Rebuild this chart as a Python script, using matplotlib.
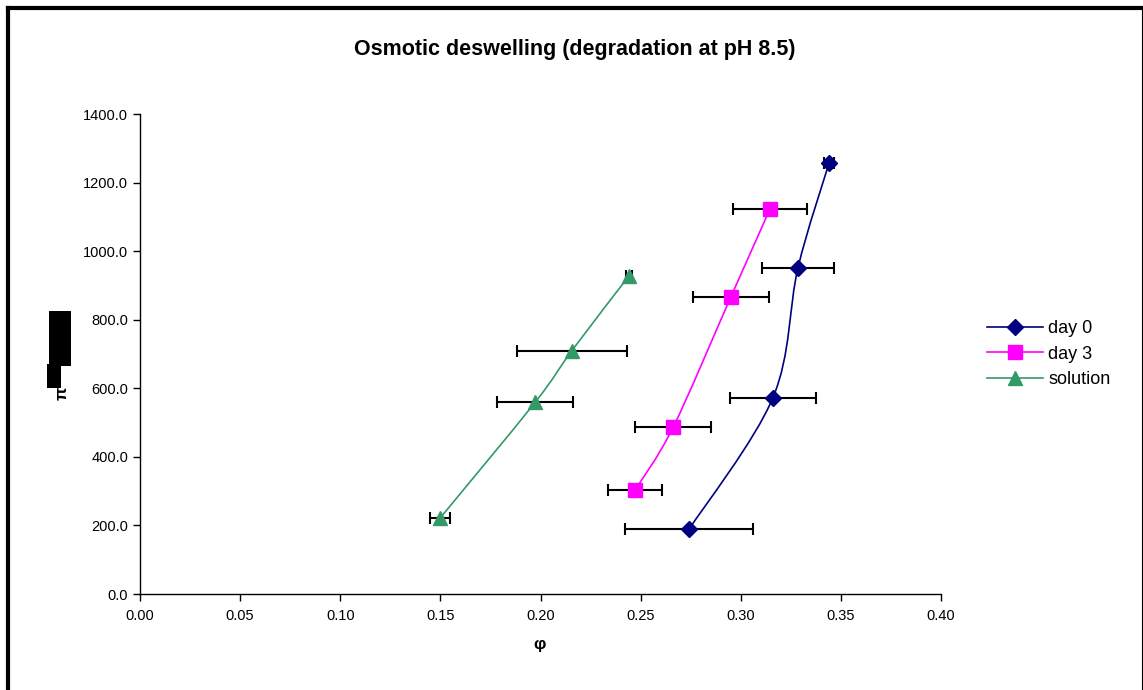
import numpy as np
import matplotlib.pyplot as plt
from matplotlib.path import Path
from matplotlib.patches import PathPatch, Rectangle
from matplotlib.lines import Line2D

plt.rcParams['font.family'] = ['Liberation Sans', 'DejaVu Sans']

# volume fraction phi, osmotic pressure pi, error on phi
phi_day0 = [0.2742, 0.3161, 0.3286, 0.3441]
pi_day0 = [189, 573, 952, 1257]
err_day0 = [0.032, 0.0215, 0.018, 0.0025]

phi_day3 = [0.2472, 0.2662, 0.2951, 0.3146]
pi_day3 = [303, 486, 867, 1123]
err_day3 = [0.0135, 0.019, 0.019, 0.0187]

phi_sol = [0.1498, 0.1973, 0.2157, 0.2442]
pi_sol = [221, 559, 710, 928]
err_sol = [0.0052, 0.019, 0.0275, 0.0015]

series = [
    ("day 0", phi_day0, pi_day0, err_day0, "#000080", "D", 8.5),
    ("day 3", phi_day3, pi_day3, err_day3, "#FF00FF", "s", 9.5),
    ("solution", phi_sol, pi_sol, err_sol, "#339966", "^", 10),
]


def smooth_path(x, y, t=1 / 6):
    # Catmull-Rom style bezier through the points (spreadsheet "smoothed line")
    pts = np.column_stack([x, y]).astype(float)
    n = len(pts)
    verts = [pts[0]]
    codes = [Path.MOVETO]
    for i in range(n - 1):
        p0 = pts[i - 1] if i > 0 else pts[i]
        p1 = pts[i]
        p2 = pts[i + 1]
        p3 = pts[i + 2] if i + 2 < n else pts[i + 1]
        c1 = p1 + (p2 - p0) * t
        c2 = p2 - (p3 - p1) * t
        verts += [c1, c2, p2]
        codes += [Path.CURVE4] * 3
    return Path(verts, codes)


W, H = 1143, 690
fig = plt.figure(figsize=(W / 100, H / 100), dpi=100)
ax = fig.add_axes([140 / W, (H - 594) / H, 801 / W, 480 / H])

for name, x, y, e, col, mk, ms in series:
    ax.errorbar(x, y, xerr=e, fmt="none", ecolor="black", elinewidth=1.5,
                capsize=4.5, capthick=1.5, zorder=2)
    ax.plot(x, y, linestyle="none", marker=mk, color=col, ms=ms,
            markeredgecolor=col, zorder=4)

ax.set_xlim(0, 0.40)
ax.set_ylim(0, 1400)
ax.set_xticks(np.arange(0, 0.401, 0.05))
ax.set_yticks(np.arange(0, 1401, 200))
ax.xaxis.set_major_formatter(plt.FormatStrFormatter("%.2f"))
ax.yaxis.set_major_formatter(plt.FormatStrFormatter("%.1f"))
ax.tick_params(direction="out", length=5, width=1, labelsize=10.5, colors="black")
ax.tick_params(axis="x", pad=6)
ax.spines["top"].set_visible(False)
ax.spines["right"].set_visible(False)
for s in ("left", "bottom"):
    ax.spines[s].set_linewidth(1)
ax.patch.set_alpha(0)

# smoothed lines are built in pixel space once the layout is fixed
fig.canvas.draw()
for name, x, y, e, col, mk, ms in series:
    disp = ax.transData.transform(np.column_stack([x, y]))
    ax.add_patch(PathPatch(smooth_path(disp[:, 0], disp[:, 1]), fill=False,
                           edgecolor=col, lw=1.2, transform=None, zorder=3))

fig.text(575 / W, 1 - 50 / H, "Osmotic deswelling (degradation at pH 8.5)",
         ha="center", va="center", fontsize=15.5, fontweight="bold")
fig.text(540 / W, 1 - 645 / H, "φ", ha="center", va="center",
         fontsize=12.5, fontweight="bold")
fig.text(62 / W, 1 - 393 / H, "π", ha="center", va="center",
         fontsize=12.5, fontweight="bold", rotation=90)

# dark blotch over the y title
fig.add_artist(Rectangle((49, H - 366), 22, 55, facecolor="black",
                         edgecolor="none", transform=None))
fig.add_artist(Rectangle((47, H - 388), 14, 24, facecolor="black",
                         edgecolor="none", transform=None))

handles = [Line2D([], [], color=c, lw=1.2, marker=m, ms=s, markeredgecolor=c)
           for _, _, _, _, c, m, s in series]
fig.legend(handles, [s[0] for s in series], loc="center left",
           bbox_to_anchor=(987 / W, 1 - 354 / H), frameon=False, fontsize=13,
           handlelength=3.1, handletextpad=0.3, labelspacing=0.48,
           borderaxespad=0, borderpad=0)

# chart frame: heavy top and left edges, thin right edge
fig.add_artist(Line2D([8, W], [H - 8, H - 8], color="black", lw=3,
                      transform=None, solid_capstyle="projecting"))
fig.add_artist(Line2D([8, 8], [0, H - 8], color="black", lw=3,
                      transform=None, solid_capstyle="projecting"))
fig.add_artist(Line2D([1141.5, 1141.5], [0, H - 8], color="black", lw=0.8,
                      transform=None))

fig.savefig("out.png", dpi=100)
